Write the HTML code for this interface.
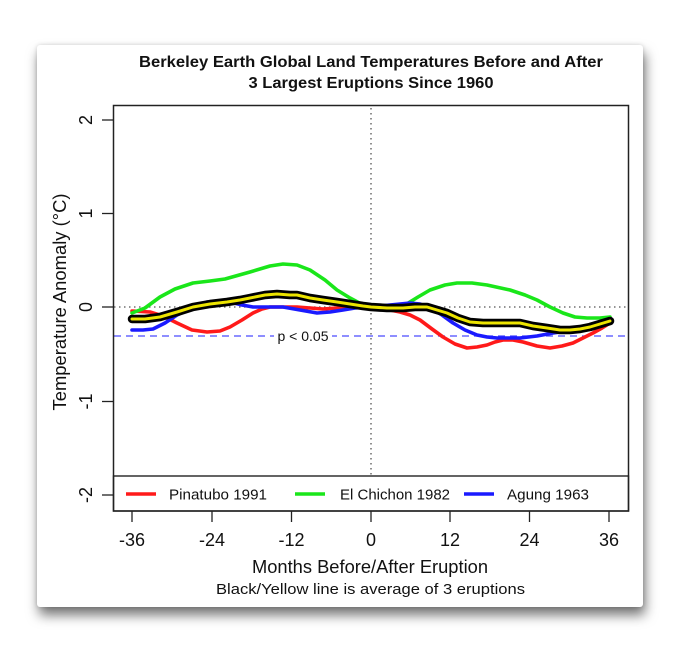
<!DOCTYPE html>
<html><head><meta charset="utf-8"><style>
html,body{margin:0;padding:0;background:#fff;}
body{width:681px;height:651px;position:relative;overflow:hidden;}
#card{position:absolute;left:37px;top:45px;width:606px;height:562px;background:#fff;border-radius:3px;box-shadow:2px 8px 12px rgba(0,0,0,0.55),0 0 4px rgba(0,0,0,0.15);}
svg{position:absolute;left:0;top:0;}
text{font-family:"Liberation Sans",Arial,sans-serif;fill:#111;}
</style></head><body>
<div id="card"></div>
<svg width="681" height="651" viewBox="0 0 681 651" xmlns="http://www.w3.org/2000/svg">
<!-- title -->
<text x="371" y="67" font-size="16" font-weight="bold" text-anchor="middle" textLength="464" lengthAdjust="spacingAndGlyphs">Berkeley Earth Global Land Temperatures Before and After</text>
<text x="371" y="88" font-size="16" font-weight="bold" text-anchor="middle" textLength="245" lengthAdjust="spacingAndGlyphs">3 Largest Eruptions Since 1960</text>

<!-- reference lines -->
<line x1="371" y1="108" x2="371" y2="476" stroke="#555" stroke-width="1.3" stroke-dasharray="1.5,3.5"/>
<line x1="114" y1="307" x2="628" y2="307" stroke="#555" stroke-width="1.3" stroke-dasharray="1.5,3.5"/>
<line x1="114" y1="336" x2="628" y2="336" stroke="#4a4aff" stroke-width="1.3" stroke-dasharray="7,5"/>
<rect x="274" y="328" width="58" height="16" fill="#fff"/>
<text x="303" y="341" font-size="14" text-anchor="middle">p &lt; 0.05</text>

<!-- series -->
<g fill="none" stroke-linejoin="round" stroke-linecap="round" stroke-width="3.6">
<polyline stroke="#ff1a1a" points="132,311 150,312 163,316 177,323 192,330 207,332 220,331 230,327 242,320 253,313 262,309 270,307 285,307 297,307 310,308 323,309 337,308 350,307 371,307 385,309 400,312 410,315 420,320 432,329 443,337 455,344 467,348 477,347 487,345 495,342 503,340 513,340 523,342 537,346 550,348 562,346 573,343 583,338 593,333 602,328 610,323"/>
<polyline stroke="#1ae61a" points="132,313 145,308 160,297 175,289 193,283 210,281 225,279 250,272 270,266 283,264 297,265 310,270 325,280 337,290 350,298 363,305 371,307 390,307 405,305 418,297 430,290 445,285 457,283 472,283 487,285 510,290 525,295 537,300 550,307 563,313 575,317 587,318 600,318 610,317"/>
<polyline stroke="#1a1aff" points="132,330 143,330 153,329 165,323 177,315 192,308 207,302 220,301 230,302 242,305 253,307 268,307 283,307 300,310 317,313 330,312 343,310 355,308 371,307 390,305 410,303 420,304 430,308 442,315 453,323 465,330 477,335 487,337 497,338 510,338 520,338 537,336 553,333 568,331 583,330 597,327 610,323"/>
<polyline stroke="#000" stroke-width="8.5" points="132,319 145,319 160,317 177,312 193,307 210,304 227,302 240,300 250,298 265,295 277,294 290,295 297,295 310,298 323,300 337,302 350,304 363,306 371,307 387,308 403,308 415,307 427,307 437,310 447,313 458,318 470,322 483,323 497,323 510,323 520,323 533,326 547,328 560,330 570,330 580,329 590,327 600,324 610,321"/>
<polyline stroke="#ece400" stroke-width="3" points="132,319 145,319 160,317 177,312 193,307 210,304 227,302 240,300 250,298 265,295 277,294 290,295 297,295 310,298 323,300 337,302 350,304 363,306 371,307 387,308 403,308 415,307 427,307 437,310 447,313 458,318 470,322 483,323 497,323 510,323 520,323 533,326 547,328 560,330 570,330 580,329 590,327 600,324 610,321"/>
</g>

<!-- legend -->
<rect x="113.5" y="476" width="515" height="35" fill="#fff" stroke="#222" stroke-width="1.4"/>
<line x1="126" y1="494" x2="156" y2="494" stroke="#ff1a1a" stroke-width="3.6"/>
<text x="169" y="499.5" font-size="15" textLength="98" lengthAdjust="spacingAndGlyphs">Pinatubo 1991</text>
<line x1="295" y1="494" x2="325" y2="494" stroke="#1ae61a" stroke-width="3.6"/>
<text x="340" y="499.5" font-size="15" textLength="110" lengthAdjust="spacingAndGlyphs">El Chichon 1982</text>
<line x1="464" y1="494" x2="494" y2="494" stroke="#1a1aff" stroke-width="3.6"/>
<text x="507" y="499.5" font-size="15" textLength="82" lengthAdjust="spacingAndGlyphs">Agung 1963</text>

<!-- plot box -->
<rect x="113.5" y="105.5" width="515" height="405.5" fill="none" stroke="#222" stroke-width="1.5"/>

<!-- y axis ticks -->
<g stroke="#222" stroke-width="1.3">
<line x1="102" y1="120" x2="113" y2="120"/>
<line x1="102" y1="213.5" x2="113" y2="213.5"/>
<line x1="102" y1="307" x2="113" y2="307"/>
<line x1="102" y1="401.5" x2="113" y2="401.5"/>
<line x1="102" y1="495" x2="113" y2="495"/>
</g>
<g font-size="18" text-anchor="middle">
<text transform="translate(92,120) rotate(-90)">2</text>
<text transform="translate(92,213.5) rotate(-90)">1</text>
<text transform="translate(92,307) rotate(-90)">0</text>
<text transform="translate(92,401.5) rotate(-90)">-1</text>
<text transform="translate(92,495) rotate(-90)">-2</text>
</g>
<text transform="translate(66,302) rotate(-90)" font-size="18" text-anchor="middle" textLength="217" lengthAdjust="spacingAndGlyphs">Temperature Anomaly (°C)</text>

<!-- x axis ticks -->
<g stroke="#222" stroke-width="1.3">
<line x1="132" y1="511" x2="132" y2="522"/>
<line x1="212" y1="511" x2="212" y2="522"/>
<line x1="291.5" y1="511" x2="291.5" y2="522"/>
<line x1="371" y1="511" x2="371" y2="522"/>
<line x1="450" y1="511" x2="450" y2="522"/>
<line x1="529.5" y1="511" x2="529.5" y2="522"/>
<line x1="609" y1="511" x2="609" y2="522"/>
</g>
<g font-size="18" text-anchor="middle">
<text x="132" y="546">-36</text>
<text x="212" y="546">-24</text>
<text x="291.5" y="546">-12</text>
<text x="371" y="546">0</text>
<text x="450" y="546">12</text>
<text x="529.5" y="546">24</text>
<text x="609" y="546">36</text>
</g>
<text x="370" y="573" font-size="18" text-anchor="middle" textLength="236" lengthAdjust="spacingAndGlyphs">Months Before/After Eruption</text>
<text x="370.5" y="594" font-size="15" text-anchor="middle" textLength="309" lengthAdjust="spacingAndGlyphs">Black/Yellow line is average of 3 eruptions</text>
</svg>
</body></html>
